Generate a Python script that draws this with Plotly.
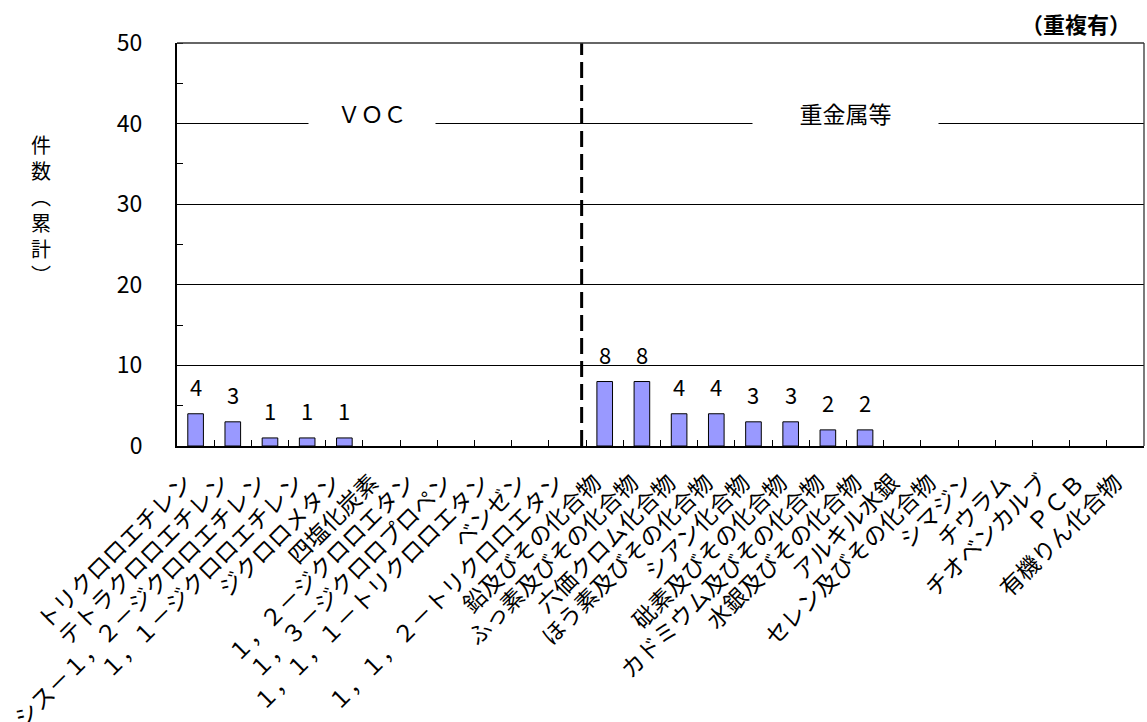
import plotly.graph_objects as go

# Substances (x-axis categories): VOC group followed by heavy metals etc.
voc_names = [
    "トリクロロエチレン", "テトラクロロエチレン", "シス－１，２－ジクロロエチレン",
    "１，１－ジクロロエチレン", "ジクロロメタン", "四塩化炭素",
    "１，２－ジクロロエタン", "１，３－ジクロロプロペン",
    "１，１，１－トリクロロエタン", "ベンゼン", "１，１，２－トリクロロエタン",
]
metal_names = [
    "鉛及びその化合物", "ふっ素及びその化合物", "六価クロム化合物",
    "ほう素及びその化合物", "シアン化合物", "砒素及びその化合物",
    "カドミウム及びその化合物", "水銀及びその化合物", "アルキル水銀",
    "セレン及びその化合物", "シマジン", "チウラム", "チオベンカルブ",
    "ＰＣＢ", "有機りん化合物",
]
# Cumulative number of cases per substance
voc_counts = [4, 3, 1, 1, 1, 0, 0, 0, 0, 0, 0]
metal_counts = [8, 8, 4, 4, 3, 3, 2, 2, 0, 0, 0, 0, 0, 0, 0]

y_ticks = [0, 10, 20, 30, 40, 50]
group_labels = ["ＶＯＣ", "重金属等"]
y_title = "件数︵累計︶"

categories = voc_names + metal_names
counts = voc_counts + metal_counts

FONT = "Noto Sans CJK JP"
W, H = 1147, 722
ML, MR, MT, MB = 177, 3, 43, 276


def px_to_paper(x, y):
    return (x - ML) / (W - ML - MR), 1 - (y - MT) / (H - MT - MB)


fig = go.Figure()
fig.add_trace(go.Bar(
    x=categories,
    y=counts,
    width=0.42,
    marker=dict(
        color="#9999FF",
        line=dict(color="black", width=[1 if v > 0 else 0 for v in counts]),
    ),
    hoverinfo="x+y",
))

# value labels above the non-empty bars
for name, v in zip(categories, counts):
    if v > 0:
        fig.add_annotation(
            x=name, y=v, text=str(v), showarrow=False,
            yanchor="bottom", yshift=10,
            font=dict(family=FONT, size=22, color="black"),
        )

# group captions sitting on the 40 gridline
n_voc = len(voc_names)
fig.add_annotation(
    x=4.74, y=41.3, xref="x", yref="y", text=group_labels[0], showarrow=False,
    font=dict(family=FONT, size=23, color="black"),
    bgcolor="white", width=124, height=26, xanchor="center", yanchor="middle",
)
fig.add_annotation(
    x=17.48, y=41.3, xref="x", yref="y", text=group_labels[1], showarrow=False,
    font=dict(family=FONT, size=23, color="black"),
    bgcolor="white", width=183, height=26, xanchor="center", yanchor="middle",
)

# dashed separator between the two groups
fig.add_shape(
    type="line", xref="x", yref="paper",
    x0=n_voc - 0.62, x1=n_voc - 0.62, y0=0, y1=1,
    line=dict(color="black", width=3, dash="16px,7px"),
)

# thin frame on top and right
fig.add_shape(type="line", xref="paper", yref="paper", x0=0, x1=1, y0=1, y1=1,
              line=dict(color="#333", width=1.3))
fig.add_shape(type="line", xref="paper", yref="paper", x0=1, x1=1, y0=0, y1=1,
              line=dict(color="#333", width=1.3))

# y-axis title, stacked one character per line
px_, py_ = px_to_paper(41, 209)
fig.add_annotation(
    x=px_, y=py_, xref="paper", yref="paper", showarrow=False,
    text="<br>".join(y_title),
    font=dict(family=FONT, size=20, color="black"),
    xanchor="center", yanchor="middle",
)

px_, py_ = px_to_paper(1076, 23)
fig.add_annotation(
    x=px_, y=py_, xref="paper", yref="paper", showarrow=False,
    text="<b>（重複有）</b>",
    font=dict(family=FONT, size=22, color="black"),
    xanchor="center", yanchor="middle",
)

fig.update_layout(
    width=W, height=H,
    margin=dict(l=ML, r=MR, t=MT, b=MB, autoexpand=False),
    plot_bgcolor="white", paper_bgcolor="white",
    showlegend=False, bargap=0.5,
    font=dict(family=FONT, color="black"),
)
fig.update_xaxes(
    type="category", tickangle=-45, tickson="boundaries",
    ticks="inside", ticklen=6, tickcolor="black",
    showline=True, linecolor="black", linewidth=2,
    showgrid=False, automargin=False,
    ticklabelstandoff=12, ticklabelshift=-10,
    tickfont=dict(family=FONT, size=23, color="black"),
)
fig.update_yaxes(
    range=[0, 50], tickvals=y_ticks, ticks="",
    showline=True, linecolor="black", linewidth=2,
    showgrid=True, gridcolor="black", gridwidth=1,
    zeroline=False, automargin=False, ticklabelstandoff=28,
    minor=dict(dtick=5, ticks="inside", ticklen=6, tickcolor="black", showgrid=False),
    tickfont=dict(family=FONT, size=23, color="black"),
)

fig.write_html("out.html")
